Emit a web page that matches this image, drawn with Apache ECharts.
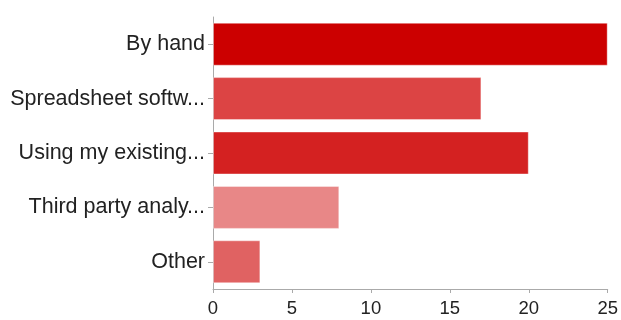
<!DOCTYPE html>
<html><head><meta charset="utf-8">
<script src="https://cdn.jsdelivr.net/npm/echarts@6/dist/echarts.min.js"></script>
<style>html,body{margin:0;padding:0;background:#fff}#c{width:621px;height:320px}</style>
</head><body><div id="c"></div>
<script>
const categories = ["By hand", "Spreadsheet softw...", "Using my existing...", "Third party analy...", "Other"];
const values = [25, 17, 20, 8, 3];
const colors = ["#cc0000", "#dc4444", "#d42121", "#e88787", "#e06262"];
const xTicks = [0, 5, 10, 15, 20, 25];

const chart = echarts.init(document.getElementById('c'), null, {renderer: 'canvas'});
chart.setOption({
  animation: false,
  grid: {left: 213, right: 10, top: 17, bottom: 31, containLabel: false},
  xAxis: {
    type: 'value', min: xTicks[0], max: xTicks[xTicks.length - 1], interval: 5,
    axisLine: {show: true, lineStyle: {color: '#aaaaaa', width: 1}},
    axisTick: {show: true, length: 4, lineStyle: {color: '#aaaaaa'}},
    splitLine: {show: false},
    axisLabel: {color: '#222', fontSize: 18.5, fontFamily: 'Liberation Sans, Arial, sans-serif', margin: 10}
  },
  yAxis: {
    type: 'category', data: categories, inverse: true,
    axisLine: {show: true, lineStyle: {color: '#aaaaaa', width: 1}},
    axisTick: {show: true, alignWithLabel: true, length: 5, lineStyle: {color: '#aaaaaa'}},
    axisLabel: {color: '#222', fontSize: 21.5, fontFamily: 'Liberation Sans, Arial, sans-serif', margin: 8}
  },
  series: [{
    type: 'bar',
    barCategoryGap: '21%',
    data: values.map((v, i) => ({value: v, itemStyle: {color: colors[i], borderColor: 'rgba(255,255,255,0.4)', borderWidth: 1}}))
  }]
});
</script></body></html>
